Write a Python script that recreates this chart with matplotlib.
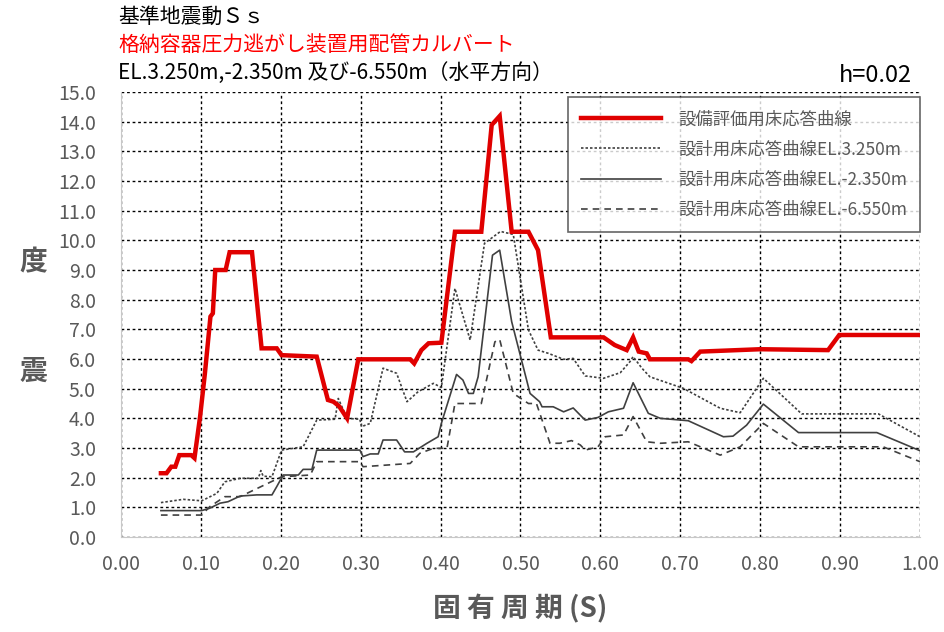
import matplotlib
matplotlib.use("Agg")
import matplotlib.pyplot as plt

plt.rcParams['font.family'] = ['Noto Sans CJK JP', 'DejaVu Sans']

# 設備評価用床応答曲線
red_x = [0.050, 0.057, 0.063, 0.068, 0.073, 0.088, 0.092, 0.099, 0.105, 0.112, 0.115,
         0.118, 0.131, 0.136, 0.164, 0.176, 0.195, 0.201, 0.245, 0.259, 0.266, 0.273,
         0.283, 0.297, 0.362, 0.367, 0.376, 0.385, 0.401, 0.418, 0.451, 0.464, 0.474,
         0.489, 0.510, 0.522, 0.538, 0.604, 0.618, 0.633, 0.641, 0.648, 0.658, 0.662,
         0.710, 0.714, 0.725, 0.800, 0.885, 0.899, 1.000]
red_y = [2.15, 2.15, 2.37, 2.37, 2.76, 2.76, 2.66, 4.05, 5.50, 7.43, 7.54,
         9.00, 9.00, 9.60, 9.60, 6.36, 6.36, 6.13, 6.08, 4.62, 4.56, 4.41,
         4.00, 5.99, 5.99, 5.85, 6.30, 6.53, 6.55, 10.29, 10.29, 13.89, 14.19,
         10.29, 10.29, 9.67, 6.73, 6.73, 6.47, 6.30, 6.73, 6.25, 6.19, 5.99,
         5.99, 5.93, 6.25, 6.33, 6.30, 6.81, 6.81]

# 設計用床応答曲線 EL.3.250m
el1_x = [0.050, 0.078, 0.101, 0.120, 0.130, 0.149, 0.172, 0.175, 0.178, 0.189, 0.201,
         0.228, 0.245, 0.268, 0.272, 0.283, 0.299, 0.301, 0.312, 0.328, 0.345, 0.358,
         0.372, 0.391, 0.401, 0.418, 0.437, 0.455, 0.475, 0.491, 0.510, 0.522, 0.535,
         0.554, 0.566, 0.581, 0.604, 0.625, 0.637, 0.641, 0.652, 0.662, 0.704, 0.750,
         0.775, 0.804, 0.852, 0.948, 1.000]
el1_y = [1.16, 1.27, 1.22, 1.47, 1.86, 1.98, 1.98, 2.24, 2.05, 2.03, 2.93,
         3.04, 3.94, 3.97, 4.67, 4.00, 3.97, 3.72, 3.83, 5.69, 5.52, 4.56,
         4.90, 5.18, 5.04, 8.38, 6.64, 9.90, 10.30, 10.20, 6.98, 6.30, 6.19,
         5.99, 6.02, 5.43, 5.35, 5.54, 5.91, 6.08, 5.69, 5.40, 5.01, 4.34,
         4.19, 5.35, 4.15, 4.15, 3.38]

# 設計用床応答曲線 EL.-2.350m
el2_x = [0.050, 0.101, 0.111, 0.124, 0.134, 0.149, 0.170, 0.189, 0.195, 0.203, 0.222,
         0.228, 0.239, 0.245, 0.299, 0.303, 0.312, 0.322, 0.328, 0.345, 0.355, 0.366,
         0.383, 0.397, 0.401, 0.420, 0.428, 0.435, 0.441, 0.447, 0.465, 0.474, 0.489,
         0.512, 0.524, 0.527, 0.541, 0.554, 0.566, 0.581, 0.597, 0.610, 0.629, 0.641,
         0.660, 0.675, 0.710, 0.754, 0.766, 0.783, 0.804, 0.848, 0.946, 1.000]
el2_y = [0.89, 0.89, 0.97, 1.14, 1.19, 1.38, 1.42, 1.42, 1.70, 2.09, 2.09,
         2.28, 2.28, 2.93, 2.93, 2.71, 2.80, 2.80, 3.27, 3.27, 2.87, 2.87,
         3.16, 3.38, 3.83, 5.48, 5.29, 4.84, 4.84, 5.40, 9.50, 9.67, 7.26,
         4.84, 4.56, 4.39, 4.39, 4.22, 4.35, 3.94, 4.03, 4.22, 4.34, 5.20,
         4.17, 4.00, 3.92, 3.38, 3.40, 3.77, 4.48, 3.52, 3.52, 2.91]

# 設計用床応答曲線 EL.-6.550m
el3_x = [0.050, 0.101, 0.111, 0.130, 0.149, 0.201, 0.237, 0.245, 0.299, 0.303, 0.362,
         0.374, 0.391, 0.408, 0.418, 0.451, 0.468, 0.474, 0.491, 0.510, 0.520, 0.537,
         0.549, 0.564, 0.575, 0.581, 0.597, 0.606, 0.629, 0.641, 0.658, 0.675, 0.710,
         0.750, 0.775, 0.804, 0.848, 0.954, 1.000]
el3_y = [0.74, 0.74, 1.02, 1.36, 1.36, 2.03, 2.09, 2.54, 2.54, 2.37, 2.48,
         2.82, 2.99, 2.99, 4.50, 4.50, 6.58, 6.66, 4.84, 4.50, 4.50, 3.16,
         3.16, 3.25, 3.10, 2.93, 3.04, 3.38, 3.44, 4.06, 3.21, 3.16, 3.21,
         2.76, 3.04, 3.83, 3.04, 3.04, 2.54]

labels = ['設備評価用床応答曲線', '設計用床応答曲線EL.3.250m',
          '設計用床応答曲線EL.-2.350m', '設計用床応答曲線EL.-6.550m']

x_ticks = [0.0, 0.1, 0.2, 0.3, 0.4, 0.5, 0.6, 0.7, 0.8, 0.9, 1.0]
y_ticks = [0, 1, 2, 3, 4, 5, 6, 7, 8, 9, 10, 11, 12, 13, 14, 15]

gray = '#595959'

fig = plt.figure(figsize=(9.45, 6.32), dpi=100)
ax = fig.add_axes([0.128, 0.1503, 0.8455, 0.7041])

ax.plot(el1_x, el1_y, linestyle=(0, (1.5, 1.2)), color='#404040', linewidth=1.2,
        label=labels[1], zorder=3)
ax.plot(el2_x, el2_y, '-', color='#404040', linewidth=1.2, label=labels[2], zorder=3)
ax.plot(el3_x, el3_y, linestyle=(0, (4, 3)), color='#404040', linewidth=1.2,
        label=labels[3], zorder=3)
ax.plot(red_x, red_y, '-', color='#e00000', linewidth=3.2, label=labels[0], zorder=4,
        solid_joinstyle='miter')

ax.set_xlim(0, 1.0)
ax.set_ylim(0, 15)
ax.set_xticks(x_ticks)
ax.set_yticks(y_ticks)
ax.set_xticklabels(['%.2f' % v for v in x_ticks])
ax.set_yticklabels(['%.1f' % v for v in y_ticks])
ax.tick_params(labelsize=14, colors=gray, length=0)
ax.tick_params(axis='y', pad=18)
ax.tick_params(axis='x', pad=12)
ax.grid(True, linestyle=(0, (2, 2)), color='black', linewidth=1.0)

ax.spines['top'].set_visible(False)
ax.spines['right'].set_visible(False)
ax.spines['left'].set_color('#c8c8c8')
ax.spines['bottom'].set_color('#c8c8c8')

# 凡例
handles, labs = ax.get_legend_handles_labels()
order = [3, 0, 1, 2]
leg = ax.legend([handles[i] for i in order], [labs[i] for i in order],
                loc='upper right', bbox_to_anchor=(1.0, 0.988), fontsize=12.5,
                frameon=True, fancybox=False, edgecolor='#404040',
                handlelength=4.6, handletextpad=1.0, borderpad=0.75,
                labelspacing=0.7, borderaxespad=0.0)
leg.get_frame().set_linewidth(1.2)
for t in leg.get_texts():
    t.set_color(gray)

ax.set_xlabel('固 有 周 期 (S)', fontsize=20, fontweight='bold', color=gray, labelpad=14)
fig.text(0.035, 1 - 262 / 632, '度', fontsize=20, fontweight='bold', color=gray,
         ha='center', va='center')
fig.text(0.035, 1 - 372 / 632, '震', fontsize=20, fontweight='bold', color=gray,
         ha='center', va='center')

# 表題
fig.text(0.125, 1 - 17 / 632, '基準地震動Ｓｓ', fontsize=15, color='black', va='center')
fig.text(0.125, 1 - 45 / 632, '格納容器圧力逃がし装置用配管カルバート', fontsize=15,
         color='#ff0000', va='center')
fig.text(0.125, 1 - 73 / 632, 'EL.3.250m,-2.350m 及び-6.550m（水平方向）', fontsize=15,
         color='black', va='center')
fig.text(0.965, 1 - 75 / 632, 'h=0.02', fontsize=17, color='black', ha='right', va='center')

fig.savefig('out.png', dpi=100)
